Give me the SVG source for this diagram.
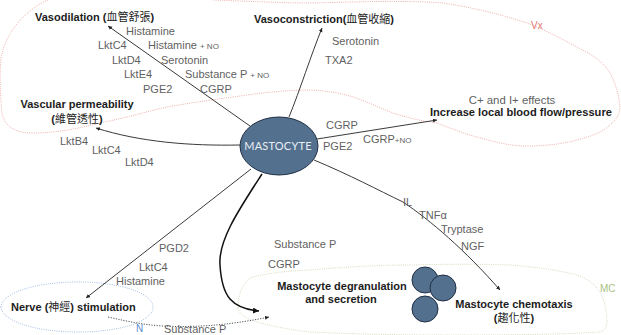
<svg xmlns="http://www.w3.org/2000/svg" width="621" height="335" viewBox="0 0 621 335">
<style>
text{font-family:"Liberation Sans",Arial,"Noto Sans CJK TC",sans-serif;font-size:11px;fill:#5f5f5f}
.b{font-weight:bold;fill:#1c1c1c}
.s{font-size:8px}
.m{text-anchor:middle}
.cjk{font-weight:normal}
.c{fill:none;stroke:#3a3a3a;stroke-width:1}
.z{fill:none;stroke-width:.8;stroke-dasharray:1 1.2}
.cell{fill:#54708f;stroke:#1f2f45;stroke-width:1}
</style>
<defs>
<marker id="a" markerWidth="6" markerHeight="6" refX="4" refY="2" orient="auto" markerUnits="userSpaceOnUse"><path d="M0 0L4 2L0 4z" fill="#222"/></marker>
<marker id="ab" markerWidth="9" markerHeight="8" refX="6" refY="3" orient="auto" markerUnits="userSpaceOnUse"><path d="M0 0L6 3L0 6z" fill="#111"/></marker>
</defs>
<g id="zones">
<path class="z" stroke="#eb9c97" d="M48 0C25 10 6 32 1 58C-1 80 1 100 2 113C4 124 12 133 33 133C58 133 80 128 100 123C125 118 145 112 167 107C190 103 210 100 233 97C260 93 285 90 310 90C328 91 340 93 353 97C368 102 380 108 393 113C408 118 422 121 437 123C450 128 462 133 477 137C495 142 510 146 527 146C545 146 562 144 577 140C592 136 603 132 610 125C617 119 620 113 620 107C619 96 616 84 610 73C602 60 590 54 577 47C560 38 545 30 527 23C500 14 470 7 443 3C400 0 360 2 310 3C280 3 245 1 213 0"/>
<path class="z" stroke="#8fb0dc" d="M1 307C2 293 35 282 78 282C120 282 153 293 153 307C153 321 122 332 78 332C35 332 2 321 1 307z"/>
<path class="z" stroke="#c9d4ad" d="M238 308C238 293 243 284 250 278C265 273 288 271 310 270C345 267 378 265 410 265C445 264 480 264 510 265C535 267 558 270 577 275C590 280 596 286 600 292C605 302 607 312 607 322C607 327 604 331 600 332C550 335 495 335 443 335C400 335 350 334 310 332C290 330 272 326 257 322C246 319 239 314 238 308z"/>
</g>
<g id="connectors">
<path class="c" d="M250 126L108 26" marker-end="url(#a)"/>
<path class="c" d="M240 145C190 146 140 142 96 128" marker-end="url(#a)"/>
<path class="c" d="M289 117C300 90 311 55 322 28" marker-end="url(#a)"/>
<path class="c" d="M317 139L437 120" marker-end="url(#a)"/>
<path class="c" d="M251 169L86 298" marker-end="url(#a)"/>
<path class="c" style="stroke-width:1.5;stroke:#111" d="M262 174C240 208 218 240 220 265C221 282 224 292 230 299C237 307 247 310 259 311" marker-end="url(#ab)"/>
<path class="c" d="M314 160C350 175 378 190 403 202C430 220 465 250 500 290" marker-end="url(#a)"/>
<path class="c" style="stroke-dasharray:1.2 1.4;stroke:#555" d="M108 317C130 322 145 325 163 326C200 328 235 324 269 317" marker-end="url(#a)"/>
</g>
<g id="mastocyte">
<ellipse class="cell" cx="279" cy="146" rx="39" ry="29"/>
<text x="278" y="150" class="m" style="fill:#e8eef4;font-family:Lato,'Liberation Sans',sans-serif;font-size:11px;letter-spacing:.2px">MASTOCYTE</text>
</g>
<g id="granules">
<circle class="cell" cx="425" cy="280" r="13"/>
<circle class="cell" cx="443" cy="288" r="13"/>
<circle class="cell" cx="425" cy="309" r="13"/>
</g>
<g id="vasodilation">
<text x="35" y="21" class="b">Vasodilation (<tspan class="cjk">血管舒張</tspan>)</text>
<text x="126" y="35">Histamine</text>
<text x="98" y="49">LktC4</text>
<text x="148" y="49">Histamine <tspan class="s">+ NO</tspan></text>
<text x="112" y="64">LktD4</text>
<text x="161" y="64">Serotonin</text>
<text x="124" y="78">LktE4</text>
<text x="185" y="78">Substance P <tspan class="s">+ NO</tspan></text>
<text x="143" y="93">PGE2</text>
<text x="200" y="93">CGRP</text>
</g>
<g id="permeability">
<text x="77" y="108" class="b m">Vascular permeability</text>
<text x="77" y="123" class="b m">(<tspan class="cjk">維管透性</tspan>)</text>
<text x="60" y="145">LktB4</text>
<text x="92" y="154">LktC4</text>
<text x="125" y="166">LktD4</text>
</g>
<g id="vasoconstriction">
<text x="254" y="23" class="b">Vasoconstriction(<tspan class="cjk">血管收縮</tspan>)</text>
<text x="332" y="45">Serotonin</text>
<text x="325" y="64">TXA2</text>
</g>
<g id="blood-flow">
<text x="512" y="104" class="m" style="font-size:11.4px">C+ and I+ effects</text>
<text x="430" y="116" class="b" style="font-size:11.1px">Increase local blood flow/pressure</text>
<text x="326" y="129">CGRP</text>
<text x="363" y="143">CGRP<tspan class="s">+NO</tspan></text>
<text x="323" y="150">PGE2</text>
</g>
<g id="nerve">
<text x="11" y="311" class="b">Nerve (<tspan class="cjk">神經</tspan>) stimulation</text>
<text x="159" y="252">PGD2</text>
<text x="139" y="271">LktC4</text>
<text x="116" y="285">Histamine</text>
<text x="136" y="332" style="fill:#5b8fd0;font-size:10px">N</text>
<text x="164" y="333">Substance P</text>
</g>
<g id="degranulation">
<text x="274" y="248">Substance P</text>
<text x="268" y="268">CGRP</text>
<text x="342" y="290" class="b m">Mastocyte degranulation</text>
<text x="341" y="303" class="b m">and secretion</text>
</g>
<g id="chemotaxis">
<text x="403" y="206">IL</text>
<text x="419" y="219">TNFα</text>
<text x="441" y="233">Tryptase</text>
<text x="461" y="250">NGF</text>
<text x="514" y="308" class="b m">Mastocyte chemotaxis</text>
<text x="514" y="322" class="b m">(<tspan class="cjk">趨化性</tspan>)</text>
</g>
<g id="zone-labels">
<text x="531" y="29" style="fill:#e2796f;font-size:10px">Vx</text>
<text x="600" y="292" style="fill:#a9c186;font-size:10px">MC</text>
</g>
</svg>
